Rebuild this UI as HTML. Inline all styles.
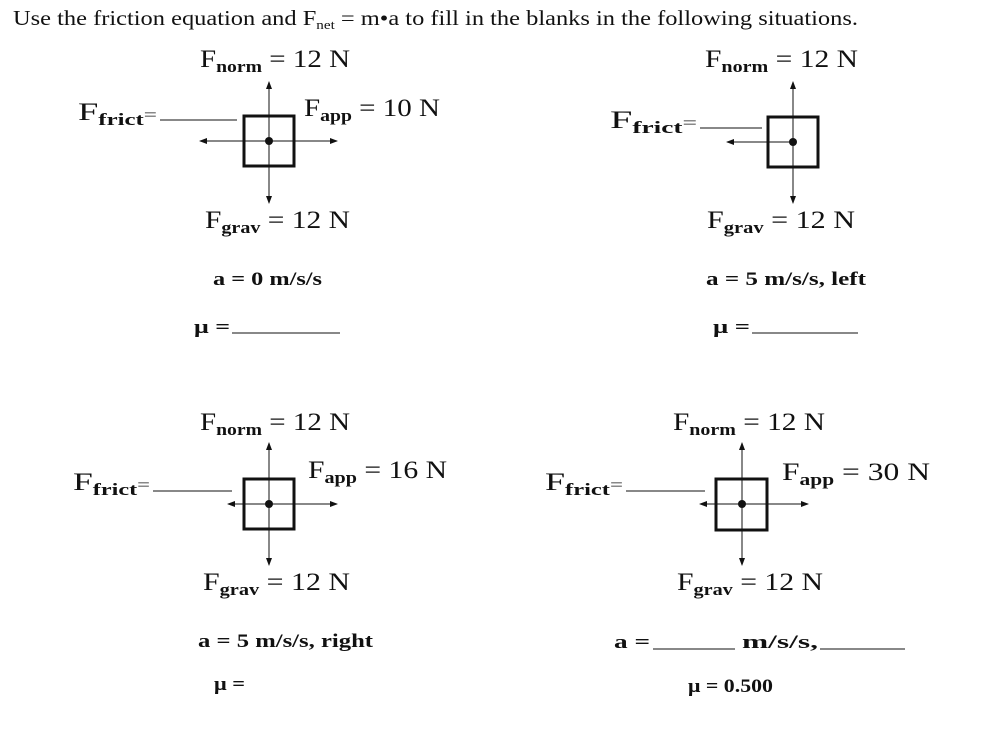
<!DOCTYPE html>
<html><head><meta charset="utf-8"><style>
html,body{margin:0;padding:0;background:#fff;width:981px;height:748px;overflow:hidden}
svg{display:block}
text{font-family:"Liberation Serif",serif;fill:#111}
.b{font-size:25px}
.s{font-size:17px;font-weight:bold}
.m{font-size:19px;font-weight:bold}
</style></head><body>
<svg width="981" height="748" viewBox="0 0 981 748" xmlns="http://www.w3.org/2000/svg">
<defs>
<marker id="ah" markerWidth="8" markerHeight="8" refX="7" refY="4" orient="auto" markerUnits="userSpaceOnUse">
<path d="M0,1 L8,4 L0,7 Z" fill="#111"/></marker>
</defs>
<text x="13" y="25" font-size="21" textLength="845" lengthAdjust="spacingAndGlyphs">Use the friction equation and F<tspan font-size="13" dy="4">net</tspan><tspan dy="-4"> = m•a to fill in the blanks in the following situations.</tspan></text>

<g stroke="#111" fill="none">
<rect x="244" y="116" width="50" height="50" stroke-width="3"/>
<line x1="269" y1="141" x2="269" y2="82" marker-end="url(#ah)"/>
<line x1="269" y1="141" x2="269" y2="203" marker-end="url(#ah)"/>
<line x1="269" y1="141" x2="200" y2="141" marker-end="url(#ah)"/>
<line x1="269" y1="141" x2="337" y2="141" marker-end="url(#ah)"/>
<line x1="160" y1="120" x2="237" y2="120"/>
<line x1="232" y1="333" x2="340" y2="333"/>
<rect x="768" y="117" width="50" height="50" stroke-width="3"/>
<line x1="793" y1="142" x2="793" y2="82" marker-end="url(#ah)"/>
<line x1="793" y1="142" x2="793" y2="203" marker-end="url(#ah)"/>
<line x1="793" y1="142" x2="727" y2="142" marker-end="url(#ah)"/>
<line x1="700" y1="128" x2="762" y2="128"/>
<line x1="752" y1="333" x2="858" y2="333"/>
<rect x="244" y="479" width="50" height="50" stroke-width="3"/>
<line x1="269" y1="504" x2="269" y2="443" marker-end="url(#ah)"/>
<line x1="269" y1="504" x2="269" y2="565" marker-end="url(#ah)"/>
<line x1="269" y1="504" x2="228" y2="504" marker-end="url(#ah)"/>
<line x1="269" y1="504" x2="337" y2="504" marker-end="url(#ah)"/>
<line x1="153" y1="491" x2="232" y2="491"/>
<rect x="716" y="479" width="51" height="51" stroke-width="3"/>
<line x1="742" y1="504" x2="742" y2="443" marker-end="url(#ah)"/>
<line x1="742" y1="504" x2="742" y2="565" marker-end="url(#ah)"/>
<line x1="742" y1="504" x2="700" y2="504" marker-end="url(#ah)"/>
<line x1="742" y1="504" x2="808" y2="504" marker-end="url(#ah)"/>
<line x1="626" y1="491" x2="705" y2="491"/>
<line x1="653" y1="649" x2="735" y2="649"/>
<line x1="820" y1="649" x2="905" y2="649"/>
</g>
<g fill="#111">
<circle cx="269" cy="141" r="4"/><circle cx="793" cy="142" r="4"/>
<circle cx="269" cy="504" r="4"/><circle cx="742" cy="504" r="4"/>
</g>

<text class="b" x="200" y="67" textLength="150" lengthAdjust="spacingAndGlyphs">F<tspan class="s" dy="5">norm</tspan><tspan dy="-5"> = 12 N</tspan></text>
<text class="b" x="78" y="120" textLength="79" lengthAdjust="spacingAndGlyphs">F<tspan class="s" dy="5">frict</tspan><tspan dy="-5" font-size="16">=</tspan></text>
<text class="b" x="304" y="116" textLength="136" lengthAdjust="spacingAndGlyphs">F<tspan class="s" dy="5">app</tspan><tspan dy="-5"> = 10 N</tspan></text>
<text class="b" x="205" y="228" textLength="145" lengthAdjust="spacingAndGlyphs">F<tspan class="s" dy="5">grav</tspan><tspan dy="-5"> = 12 N</tspan></text>
<text class="m" x="213" y="285" textLength="109" lengthAdjust="spacingAndGlyphs">a = 0 m/s/s</text>
<text class="m" x="194" y="333" textLength="36" lengthAdjust="spacingAndGlyphs">μ =</text>

<text class="b" x="705" y="67" textLength="153" lengthAdjust="spacingAndGlyphs">F<tspan class="s" dy="5">norm</tspan><tspan dy="-5"> = 12 N</tspan></text>
<text class="b" x="610" y="128" textLength="87" lengthAdjust="spacingAndGlyphs">F<tspan class="s" dy="5">frict</tspan><tspan dy="-5" font-size="16">=</tspan></text>
<text class="b" x="707" y="228" textLength="148" lengthAdjust="spacingAndGlyphs">F<tspan class="s" dy="5">grav</tspan><tspan dy="-5"> = 12 N</tspan></text>
<text class="m" x="706" y="285" textLength="160" lengthAdjust="spacingAndGlyphs">a = 5 m/s/s, left</text>
<text class="m" x="713" y="333" textLength="37" lengthAdjust="spacingAndGlyphs">μ =</text>

<text class="b" x="200" y="430" textLength="150" lengthAdjust="spacingAndGlyphs">F<tspan class="s" dy="5">norm</tspan><tspan dy="-5"> = 12 N</tspan></text>
<text class="b" x="73" y="490" textLength="77" lengthAdjust="spacingAndGlyphs">F<tspan class="s" dy="5">frict</tspan><tspan dy="-5" font-size="16">=</tspan></text>
<text class="b" x="308" y="478" textLength="139" lengthAdjust="spacingAndGlyphs">F<tspan class="s" dy="5">app</tspan><tspan dy="-5"> = 16 N</tspan></text>
<text class="b" x="203" y="590" textLength="147" lengthAdjust="spacingAndGlyphs">F<tspan class="s" dy="5">grav</tspan><tspan dy="-5"> = 12 N</tspan></text>
<text class="m" x="198" y="647" textLength="175" lengthAdjust="spacingAndGlyphs">a = 5 m/s/s, right</text>
<text class="m" x="214" y="690" textLength="31" lengthAdjust="spacingAndGlyphs">μ =</text>

<text class="b" x="673" y="430" textLength="152" lengthAdjust="spacingAndGlyphs">F<tspan class="s" dy="5">norm</tspan><tspan dy="-5"> = 12 N</tspan></text>
<text class="b" x="545" y="490" textLength="78" lengthAdjust="spacingAndGlyphs">F<tspan class="s" dy="5">frict</tspan><tspan dy="-5" font-size="16">=</tspan></text>
<text class="b" x="782" y="480" textLength="148" lengthAdjust="spacingAndGlyphs">F<tspan class="s" dy="5">app</tspan><tspan dy="-5"> = 30 N</tspan></text>
<text class="b" x="677" y="590" textLength="146" lengthAdjust="spacingAndGlyphs">F<tspan class="s" dy="5">grav</tspan><tspan dy="-5"> = 12 N</tspan></text>
<text class="m" x="614" y="648" font-size="16" textLength="36" lengthAdjust="spacingAndGlyphs">a =</text>
<text class="m" x="742" y="648" textLength="76" lengthAdjust="spacingAndGlyphs">m/s/s,</text>
<text class="m" x="688" y="692" textLength="85" lengthAdjust="spacingAndGlyphs">μ = 0.500</text>
</svg>
</body></html>
